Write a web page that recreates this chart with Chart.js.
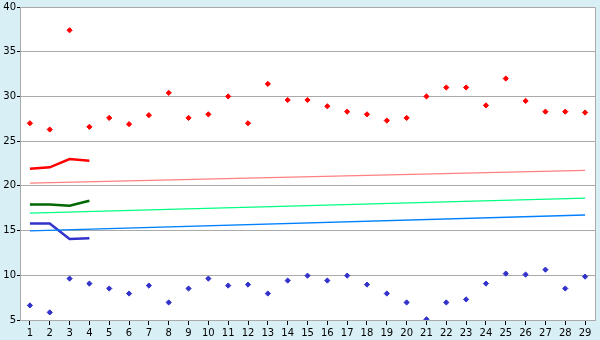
<!DOCTYPE html>
<html lang="en">
<head>
  <meta charset="UTF-8">
  <title>Chart</title>
  <script src="https://cdn.jsdelivr.net/npm/chart.js"></script>
  <style>
    body { margin: 0; background-color: #d8eff6; }
    #wrap { width: 600px; height: 340px; }
  </style>
</head>
<body>
  <div id="wrap"><canvas id="chart"></canvas></div>
  <script>
    const categories = ['1','2','3','4','5','6','7','8','9','10','11','12','13','14','15',
      '16','17','18','19','20','21','22','23','24','25','26','27','28','29'];

    const highPoints = [27.0, 26.3, 37.4, 26.6, 27.6, 26.9, 27.9, 30.4, 27.6, 28.0,
      30.0, 27.0, 31.4, 29.6, 29.6, 28.9, 28.3, 28.0, 27.3, 27.6,
      30.0, 31.0, 31.0, 29.0, 32.0, 29.5, 28.3, 28.3, 28.2];
    const lowPoints = [6.63, 5.85, 9.63, 9.07, 8.52, 7.96, 8.85, 6.96, 8.52, 9.63,
      8.85, 8.96, 7.96, 9.41, 9.96, 9.41, 9.96, 8.96, 7.96, 6.96,
      5.07, 6.96, 7.30, 9.07, 10.19, 10.08, 10.63, 8.52, 9.85];

    const redRun = [21.92, 22.07, 23.0, 22.8];
    const greenRun = [17.92, 17.92, 17.78, 18.33];
    const blueRun = [15.78, 15.78, 14.07, 14.15];

    // trend lines: start (cat 1) and end (cat 29)
    const redTrend = [20.3, 21.74];
    const greenTrend = [16.96, 18.63];
    const blueTrend = [14.96, 16.74];

    const yTicks = [5, 10, 15, 20, 25, 30, 35, 40];

    function trend(vals) {
      return [{ x: categories[0], y: vals[0] }, { x: categories[categories.length - 1], y: vals[1] }];
    }

    // white plot area + grey frame
    const frame = {
      id: 'frame',
      beforeDraw(chart) {
        const a = chart.chartArea, c = chart.ctx;
        c.save();
        c.fillStyle = '#ffffff';
        c.fillRect(a.left, a.top, a.right - a.left, a.bottom - a.top);
        c.restore();
      },
      afterDatasetsDraw(chart) {
        const a = chart.chartArea, c = chart.ctx;
        c.save();
        c.strokeStyle = '#aaaaaa';
        c.lineWidth = 1;
        c.beginPath();
        c.moveTo(a.left, a.top + 0.5);
        c.lineTo(a.right + 0.5, a.top + 0.5);
        c.lineTo(a.right + 0.5, a.bottom);
        c.stroke();
        c.restore();
      }
    };

    const pointSet = (data, color) => ({
      data, showLine: false, pointStyle: 'rectRot', pointRadius: 2.6,
      pointBackgroundColor: color, pointBorderColor: color, pointBorderWidth: 1
    });
    const lineSet = (data, color, width) => ({
      data, borderColor: color, borderWidth: width, pointRadius: 0, fill: false, tension: 0
    });

    new Chart(document.getElementById('chart'), {
      type: 'line',
      data: {
        labels: categories,
        datasets: [
          lineSet(trend(redTrend), '#ff8080', 1.3),
          lineSet(trend(greenTrend), '#00ff80', 1.3),
          lineSet(trend(blueTrend), '#0080ff', 1.3),
          lineSet(redRun, '#ff0000', 2.5),
          lineSet(greenRun, '#006600', 2.5),
          lineSet(blueRun, '#3333cc', 2.5),
          pointSet(highPoints, '#ff0000'),
          pointSet(lowPoints, '#3333cc')
        ]
      },
      options: {
        responsive: true,
        maintainAspectRatio: false,
        animation: false,
        layout: { padding: { top: 5, right: 5 } },
        plugins: { legend: { display: false }, tooltip: { enabled: false } },
        scales: {
          x: {
            type: 'category',
            offset: true,
            grid: { drawOnChartArea: false, tickLength: 5, tickColor: '#000000' },
            border: { color: '#aaaaaa' },
            ticks: { color: '#000000', padding: 2, maxRotation: 0, autoSkip: false,
              font: { family: 'DejaVu Sans', size: 10 } },
            afterFit(s) { s.height = 20; }
          },
          y: {
            min: 5, max: 40,
            afterBuildTicks(s) { s.ticks = yTicks.map(v => ({ value: v })); },
            grid: { color: '#aaaaaa', tickLength: 3, tickColor: '#000000' },
            border: { color: '#aaaaaa' },
            ticks: { color: '#000000', padding: 1,
              font: { family: 'DejaVu Sans', size: 10 } },
            afterFit(s) { s.width = 20; }
          }
        }
      },
      plugins: [frame]
    });
  </script>
</body>
</html>
